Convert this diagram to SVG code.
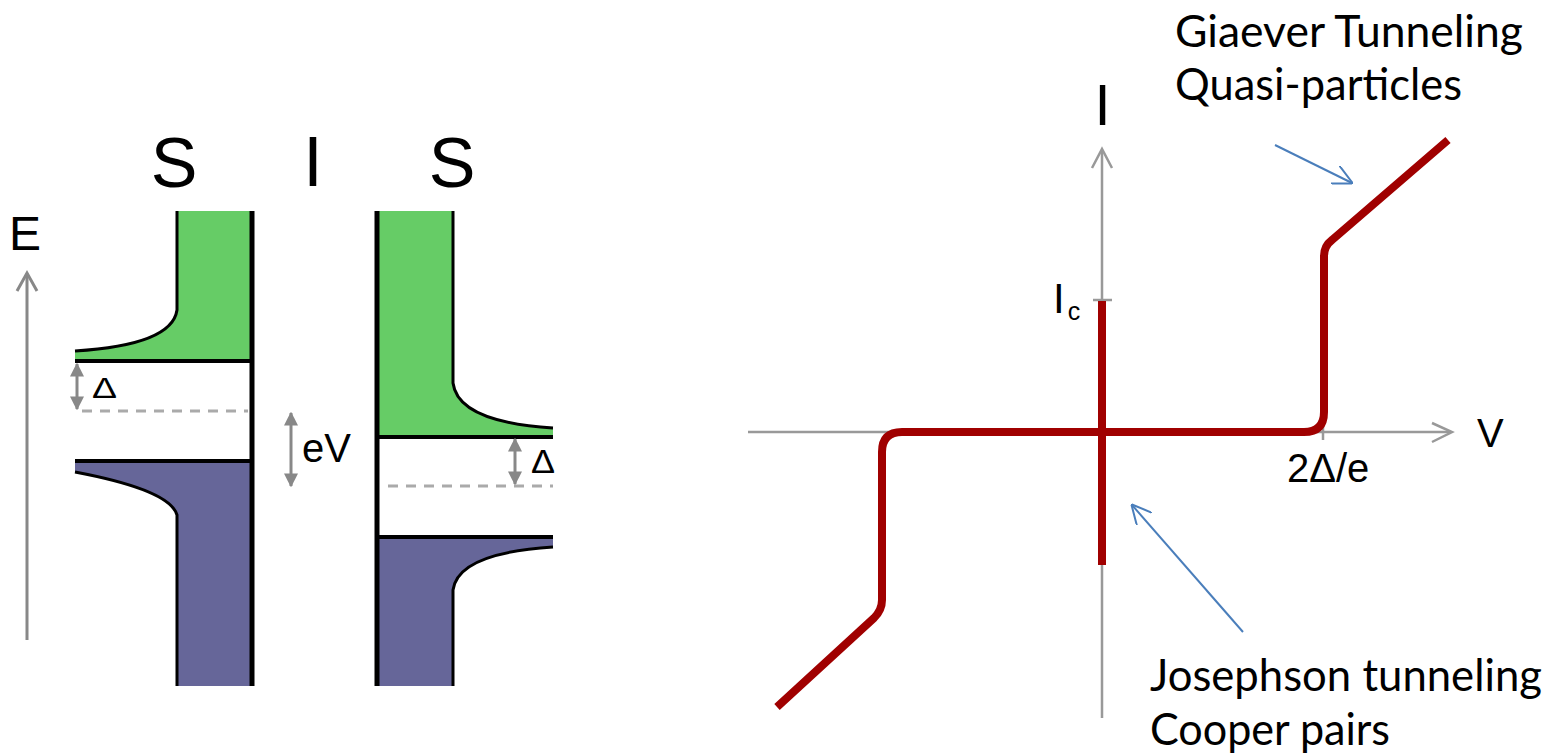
<svg xmlns="http://www.w3.org/2000/svg" width="1558" height="754" viewBox="0 0 1558 754">
<style>
.lbl{font-family:"Liberation Sans",Arial,sans-serif;fill:#000}
.cal{font-family:Lato,"Open Sans",sans-serif;fill:#000;font-size:44px}
.edge{fill:none;stroke:#000;stroke-width:3}
.wall{fill:none;stroke:#000;stroke-width:5}
.lev{fill:none;stroke:#000;stroke-width:4}
.green{fill:#66cc66}
.blue{fill:#666699}
.garr{stroke:#888;stroke-width:3;fill:none}
.dash{stroke:#aaa;stroke-width:3;stroke-dasharray:10 8;fill:none}
.axis{stroke:#999;stroke-width:2.5;fill:none}
.iv{stroke:#a00000;stroke-width:8;fill:none;stroke-linejoin:round}
.ann{stroke:#4a7ebb;stroke-width:2;fill:none}
</style>
<defs>
<marker id="tri" viewBox="0 0 10 10" refX="9" refY="5" markerUnits="userSpaceOnUse" markerWidth="14" markerHeight="15" orient="auto-start-reverse">
<path d="M0,0 L10,5 L0,10 z" fill="#888"/>
</marker>
<marker id="open" viewBox="0 0 20 20" refX="19" refY="10" markerUnits="userSpaceOnUse" markerWidth="20" markerHeight="20" orient="auto">
<path d="M0,0 L20,10 L0,20" fill="none" stroke="#4a7ebb" stroke-width="2"/>
</marker>
</defs>
<rect width="1558" height="754" fill="#fff"/>

<g id="energy-axis">
<line class="garr" x1="27" y1="640" x2="27" y2="274"/>
<polyline class="garr" points="17,291 27,273 37,291"/>
<text class="lbl" x="9" y="250" font-size="48">E</text>
</g>

<g id="left-S">
<path class="green" d="M177,211 L252,211 L252,361 L75,361 L75,351 Q172,345 177,310 Z"/>
<path class="edge" d="M177,211 L177,310 Q172,345 75,351"/>
<line class="lev" x1="75" y1="361" x2="252" y2="361"/>
<path class="blue" d="M75,461 L252,461 L252,686 L177,686 L177,515 Q170,490 75,472 Z"/>
<path class="edge" d="M75,472 Q170,490 177,515 L177,686"/>
<line class="lev" x1="75" y1="461" x2="252" y2="461"/>
<line class="wall" x1="252" y1="211" x2="252" y2="686"/>
<line class="dash" x1="82" y1="411" x2="248" y2="411"/>
<line class="garr" x1="77" y1="364" x2="77" y2="409" marker-start="url(#tri)" marker-end="url(#tri)"/>
<text class="lbl" x="92" y="398" font-size="30" textLength="25" lengthAdjust="spacingAndGlyphs">Δ</text>
<text class="lbl" x="174" y="187" font-size="70" text-anchor="middle">S</text>
</g>

<g id="insulator">
<text class="lbl" x="313" y="186" font-size="70" text-anchor="middle">I</text>
<line class="garr" x1="291" y1="413" x2="291" y2="486" marker-start="url(#tri)" marker-end="url(#tri)"/>
<text class="lbl" x="302" y="462" font-size="40">eV</text>
</g>

<g id="right-S">
<path class="green" d="M377,211 L453,211 L453,383 Q458,422 553,428 L553,437 L377,437 Z"/>
<path class="edge" d="M453,211 L453,383 Q458,422 553,428"/>
<line class="lev" x1="377" y1="437" x2="553" y2="437"/>
<path class="blue" d="M377,537 L553,537 L553,547 Q458,553 453,590 L453,686 L377,686 Z"/>
<path class="edge" d="M553,547 Q458,553 453,590 L453,686"/>
<line class="lev" x1="377" y1="537" x2="553" y2="537"/>
<line class="wall" x1="377" y1="211" x2="377" y2="686"/>
<line class="dash" x1="388" y1="486" x2="553" y2="486"/>
<line class="garr" x1="515" y1="439" x2="515" y2="484" marker-start="url(#tri)" marker-end="url(#tri)"/>
<text class="lbl" x="531" y="473" font-size="34" textLength="24" lengthAdjust="spacingAndGlyphs">Δ</text>
<text class="lbl" x="452" y="187" font-size="70" text-anchor="middle">S</text>
</g>

<g id="iv-axes">
<line class="axis" x1="1102" y1="718" x2="1102" y2="150"/>
<polyline class="axis" points="1092,168 1102,149 1112,168"/>
<line class="axis" x1="748" y1="432" x2="1451" y2="432"/>
<polyline class="axis" points="1432,423 1452,432 1432,442"/>
<line class="axis" x1="1093" y1="300" x2="1112" y2="300" stroke-width="3"/>
<line class="axis" x1="1323" y1="426" x2="1323" y2="440"/>
<text class="lbl" x="1102.5" y="125" font-size="58" text-anchor="middle">I</text>
<text class="lbl" x="1477" y="447" font-size="40">V</text>
<text class="lbl" x="1287" y="482" font-size="40">2Δ/e</text>
<text class="lbl" x="1053" y="313" font-size="42">I<tspan font-size="25" dx="3" dy="7">c</tspan></text>
</g>

<g id="iv-curve">
<line class="iv" x1="1102" y1="301" x2="1102" y2="565"/>
<path class="iv" d="M777,707 L874,618 Q882,610 882,600 L882,452 Q882,432 902,432 L1304,432 Q1324,432 1324,412 L1324,256 Q1324,246 1332,240 L1448,140"/>
</g>

<g id="label-giaever">
<text class="cal" x="1175" y="47" textLength="348" lengthAdjust="spacingAndGlyphs">Giaever Tunneling</text>
<text class="cal" x="1175" y="100" textLength="287" lengthAdjust="spacingAndGlyphs">Quasi-particles</text>
</g>
<g id="label-josephson">
<text class="cal" x="1150" y="691" textLength="392" lengthAdjust="spacingAndGlyphs">Josephson tunneling</text>
<text class="cal" x="1150" y="745" textLength="240" lengthAdjust="spacingAndGlyphs">Cooper pairs</text>
</g>

<g id="connectors">
<line class="ann" x1="1275" y1="145" x2="1352" y2="183" marker-end="url(#open)"/>
<line class="ann" x1="1243" y1="632" x2="1132" y2="505" marker-end="url(#open)"/>
</g>
</svg>
